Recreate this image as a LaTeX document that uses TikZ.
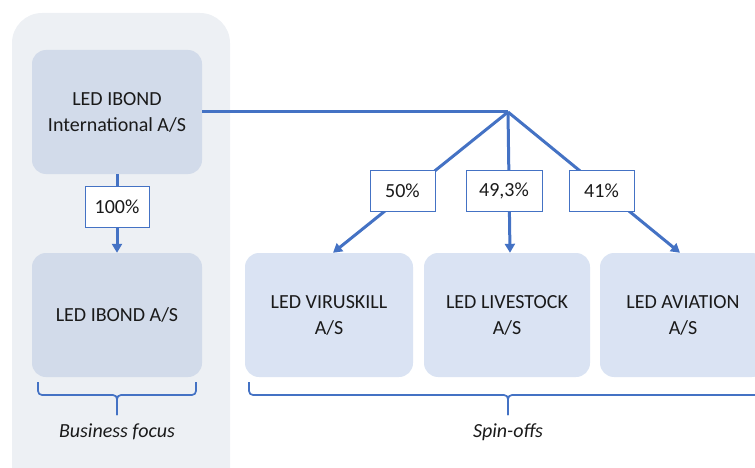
\documentclass[tikz,border=0pt]{standalone}
\usepackage{fontspec}
\setmainfont{Carlito}
\usetikzlibrary{arrows.meta,calc}
\definecolor{lineblue}{HTML}{4472C4}
\definecolor{boxleft}{HTML}{D2DBEA}
\definecolor{boxright}{HTML}{DAE3F3}
\definecolor{panelgrey}{HTML}{EDF0F4}
\definecolor{txt}{HTML}{1A1A1A}
\begin{document}
\begin{tikzpicture}[x=1pt,y=-1pt,
  entity/.style={rounded corners=14pt, minimum height=124pt, align=center,
    font=\fontsize{20}{26}\selectfont, text=txt, inner sep=0pt},
  pct/.style={draw=lineblue, line width=0.8pt, fill=white, minimum height=41pt,
    inner sep=0pt, font=\fontsize{20}{24}\selectfont, text=txt},
  conn/.style={draw=lineblue, line width=3pt},
  arr/.style={conn, -{Triangle[length=9pt,width=10pt]}},
  bracestyle/.style={draw=lineblue, line width=1.7pt, rounded corners=4pt},
  caption/.style={font=\fontsize{20}{24}\selectfont\itshape, text=txt}
]
\useasboundingbox (0,0) rectangle (755,468);
\begin{scope}
\clip (0,0) rectangle (755,468);
\fill[panelgrey, rounded corners=30pt] (12,13) rectangle (230,520);
\node[entity, fill=boxleft, minimum width=170pt] (top) at (117,112) {LED IBOND\\International A/S};
\node[entity, fill=boxleft, minimum width=170pt] (ibond) at (117,315) {LED IBOND A/S};
\node[entity, fill=boxright, minimum width=168pt] (vk) at (329,315) {LED VIRUSKILL\\A/S};
\node[entity, fill=boxright, minimum width=166pt] (ls) at (507,315) {LED LIVESTOCK\\A/S};
\node[entity, fill=boxright, minimum width=166pt] (av) at (683,315) {LED AVIATION\\A/S};

\coordinate (j) at (508,112);
\draw[conn] (top.east) -- (j);
\draw[arr] (j) -- ($(vk.north)+(4,0)$);
\draw[arr] (j) -- ($(ls.north)+(3,0)$);
\draw[arr] (j) -- ($(av.north)+(-3,0)$);
\draw[arr] (top.south) -- (ibond.north);

\node[pct, minimum width=64pt] (p100) at (117,207) {100\%};
\node[pct, minimum width=65pt] (p50) at (402.5,190.5) {50\%};
\node[pct, minimum width=76pt] (p49) at (504,190.5) {49,3\%};
\node[pct, minimum width=65pt] (p41) at (601.5,190.5) {41\%};

% braces
\draw[bracestyle] (38,382) -- (38,395) -- (117,395) -- (117,415);
\draw[bracestyle] (196,382) -- (196,395) -- (117,395) -- (117,415);
\draw[bracestyle] (249,382) -- (249,395) -- (508,395) -- (508,415);
\draw[bracestyle] (770,395) -- (508,395) -- (508,415);

\node[caption] (bf) at (117,432) {Business focus};
\node[caption] (so) at (508,432) {Spin-offs};
\end{scope}
\end{tikzpicture}
\end{document}
